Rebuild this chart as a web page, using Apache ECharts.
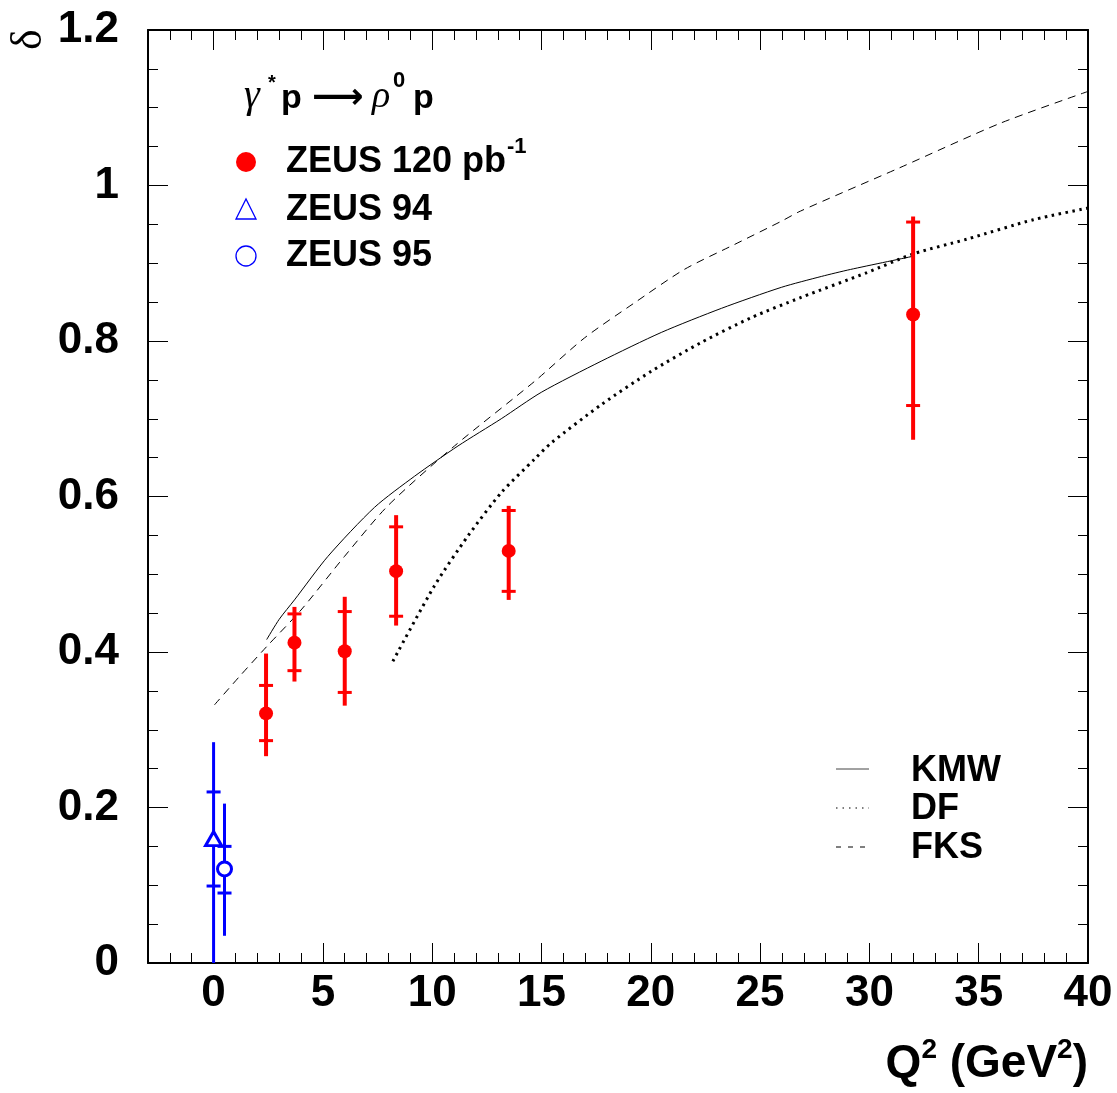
<!DOCTYPE html>
<html>
<head>
<meta charset="utf-8">
<script src="https://cdn.jsdelivr.net/npm/echarts@6/dist/echarts.min.js"></script>
<style>
html,body{margin:0;padding:0;background:#fff;}
#chart{width:1117px;height:1093px;}
</style>
</head>
<body>
<div id="chart"></div>
<script>
// ---------- tick values ----------
const xMajorTicks = [0, 5, 10, 15, 20, 25, 30, 35, 40];
const xMinorTicks = [-2, -1, 1, 2, 3, 4, 6, 7, 8, 9, 11, 12, 13, 14, 16, 17, 18, 19,
  21, 22, 23, 24, 26, 27, 28, 29, 31, 32, 33, 34, 36, 37, 38, 39];

// ---------- ZEUS 120 pb-1 (red) ----------
const zeus120Q2     = [2.4,   3.7,   6.0,   8.35,  13.5,  32.0];
const zeus120Delta  = [0.321, 0.412, 0.401, 0.504, 0.530, 0.834];
const zeus120StatLo = [0.286, 0.376, 0.348, 0.446, 0.478, 0.717];
const zeus120StatHi = [0.357, 0.449, 0.452, 0.561, 0.582, 0.953];
const zeus120TotLo  = [0.266, 0.362, 0.331, 0.434, 0.467, 0.673];
const zeus120TotHi  = [0.398, 0.458, 0.471, 0.576, 0.588, 0.960];

// ---------- ZEUS 94 (blue triangle) ----------
const zeus94Q2     = [0.0];
const zeus94Delta  = [0.160];
const zeus94StatLo = [0.099];
const zeus94StatHi = [0.220];
const zeus94TotLo  = [0.0];
const zeus94TotHi  = [0.284];

// ---------- ZEUS 95 (blue circle) ----------
const zeus95Q2     = [0.5];
const zeus95Delta  = [0.121];
const zeus95StatLo = [0.090];
const zeus95StatHi = [0.150];
const zeus95TotLo  = [0.035];
const zeus95TotHi  = [0.205];

// ---------- model curves ----------
const kmwQ2    = [2.43, 3.0, 3.7, 5.23, 7.36, 9.19, 11.18, 13.16, 14.99, 17.73, 20.48, 23.23, 25.97, 27.8, 29.13, 32.0];
const kmwDelta = [0.416, 0.442, 0.467, 0.523, 0.586, 0.626, 0.665, 0.700, 0.734, 0.774, 0.811, 0.842, 0.869, 0.883, 0.892, 0.909];

const dfQ2    = [8.2, 10.1, 11.63, 13.16, 14.68, 15.45, 17.73, 20.02, 22.3, 24.59, 26.87, 29.89, 32.0, 34.46, 37.5, 40.0];
const dfDelta = [0.388, 0.485, 0.549, 0.605, 0.648, 0.669, 0.718, 0.761, 0.798, 0.830, 0.856, 0.888, 0.912, 0.931, 0.956, 0.971];

const fksQ2    = [0.04, 1.2, 2.43, 4.0, 5.99, 7.97, 11.02, 14.68, 16.97, 19.25, 21.53, 23.82, 25.97, 26.84, 31.4, 35.98, 40.0];
const fksDelta = [0.332, 0.369, 0.407, 0.454, 0.523, 0.588, 0.665, 0.748, 0.804, 0.849, 0.892, 0.924, 0.954, 0.967, 1.023, 1.080, 1.121];

// ---------- helpers ----------
function rows(q, d, sl, sh, tl, th) {
  return q.map((v, i) => [v, d[i], sl[i], sh[i], tl[i], th[i]]);
}
function pairs(q, d) { return q.map((v, i) => [v, d[i]]); }

function errRender(color, lw, tickW, tickLw) {
  return function (params, api) {
    const x = api.value(0);
    const top = api.coord([x, api.value(5)]);
    const bot = api.coord([x, api.value(4)]);
    const sHi = api.coord([x, api.value(3)]);
    const sLo = api.coord([x, api.value(2)]);
    const h = tickW / 2;
    return {
      type: 'group',
      children: [
        { type: 'line', shape: { x1: top[0], y1: top[1], x2: bot[0], y2: bot[1] }, style: { stroke: color, lineWidth: lw } },
        { type: 'line', shape: { x1: sHi[0] - h, y1: sHi[1], x2: sHi[0] + h, y2: sHi[1] }, style: { stroke: color, lineWidth: tickLw } },
        { type: 'line', shape: { x1: sLo[0] - h, y1: sLo[1], x2: sLo[0] + h, y2: sLo[1] }, style: { stroke: color, lineWidth: tickLw } }
      ]
    };
  };
}

const SANS = '"Liberation Sans", Arial, sans-serif';
const SERIF = '"Liberation Serif", "DejaVu Serif", serif';

// text placed so that its baseline sits at "base"
function txt(str, x, base, size, font, opts) {
  opts = opts || {};
  const yc = base - 0.3465 * size;
  return {
    type: 'text', x: x, y: yc, z: 100,
    style: {
      text: str, font: font, fill: opts.fill || '#000',
      align: opts.align || 'left', verticalAlign: 'middle',
      textAlign: opts.align || 'left', textVerticalAlign: 'middle'
    }
  };
}

const mctx = document.createElement('canvas').getContext('2d');
function tw(t, f) { mctx.font = f; return mctx.measureText(t).width; }

// x-axis title, right aligned at 1088
function axisTitle() {
  const big = 'bold 46px ' + SANS, sup = 'bold 28px ' + SANS;
  const parts = [['Q', big, 0], ['2', sup, 20], [' (GeV', big, 0], ['2', sup, 20], [')', big, 0]];
  let total = parts.reduce((s, p) => s + tw(p[0], p[1]), 0);
  let x = 1088 - total;
  const out = [];
  parts.forEach(p => {
    const size = p[1] === big ? 46 : 28;
    out.push(txt(p[0], x, 1080 - p[2], size, p[1]));
    x += tw(p[0], p[1]);
  });
  return out;
}

const chart = echarts.init(document.getElementById('chart'), null, { renderer: 'canvas' });

const axisLineStyle = { color: '#000', width: 2 };
const labelStyle = { color: '#000', fontFamily: SANS, fontWeight: 'bold', fontSize: 44 };

function xAxisCfg(pos, ticks, len, showLine, showLabel) {
  return {
    type: 'value', position: pos, min: -3, max: 40,
    axisLine: { show: showLine, onZero: false, lineStyle: axisLineStyle },
    axisTick: { show: true, inside: true, length: len, customValues: ticks, lineStyle: { color: '#000', width: 1 } },
    axisLabel: showLabel ? Object.assign({ show: true, margin: 9, customValues: xMajorTicks }, labelStyle) : { show: false },
    splitLine: { show: false }
  };
}
function yAxisCfg(pos, showLabel) {
  return {
    type: 'value', position: pos, min: 0, max: 1.2, interval: 0.2,
    axisLine: { show: true, onZero: false, lineStyle: axisLineStyle },
    axisTick: { show: true, inside: true, length: 20, lineStyle: { color: '#000', width: 1 } },
    minorTick: { show: true, splitNumber: 4, length: 10, lineStyle: { color: '#000', width: 1 } },
    axisLabel: showLabel ? Object.assign({
      show: true, margin: 29,
      formatter: v => (Math.abs(v) < 1e-9 ? '0' : Math.abs(v - 1) < 1e-9 ? '1' : v.toFixed(1))
    }, labelStyle) : { show: false },
    splitLine: { show: false }
  };
}

// left axis also carries the rotated y title (delta), pushed to the left edge
const yLeft = yAxisCfg('left', true);
Object.assign(yLeft, {
  name: 'δ', nameLocation: 'end', nameRotate: 90, nameGap: -20, nameMoveOverlap: false,
  nameTextStyle: { fontFamily: SERIF, fontSize: 44, fontWeight: 'normal', color: '#000',
                   lineHeight: 238, verticalAlign: 'bottom' }
});

const option = {
  animation: false,
  backgroundColor: '#fff',
  grid: { left: 148, right: 29, top: 30, bottom: 130, containLabel: false, outerBoundsMode: 'none' },
  xAxis: [
    xAxisCfg('bottom', xMajorTicks, 20, true, true),
    xAxisCfg('bottom', xMinorTicks, 10, false, false),
    xAxisCfg('top', xMajorTicks, 20, true, false),
    xAxisCfg('top', xMinorTicks, 10, false, false)
  ],
  yAxis: [yLeft, yAxisCfg('right', false)],
  series: [
    { name: 'KMW', type: 'line', data: pairs(kmwQ2, kmwDelta), showSymbol: false, smooth: 0.25,
      lineStyle: { color: '#000', width: 1 }, z: 3 },
    { name: 'DF', type: 'line', data: pairs(dfQ2, dfDelta), showSymbol: false, smooth: 0.25,
      lineStyle: { color: '#000', width: 3, type: [2.5, 4.5], cap: 'butt' }, z: 3 },
    { name: 'FKS', type: 'line', data: pairs(fksQ2, fksDelta), showSymbol: false, smooth: 0.25,
      lineStyle: { color: '#000', width: 1, type: [8, 6] }, z: 3 },
    { name: 'ZEUS 120 err', type: 'custom', renderItem: errRender('#ff0000', 4, 14, 3),
      data: rows(zeus120Q2, zeus120Delta, zeus120StatLo, zeus120StatHi, zeus120TotLo, zeus120TotHi),
      encode: { x: 0, y: 1 }, z: 5 },
    { name: 'ZEUS 94 err', type: 'custom', renderItem: errRender('#0000ff', 3, 14, 3),
      data: rows(zeus94Q2, zeus94Delta, zeus94StatLo, zeus94StatHi, zeus94TotLo, zeus94TotHi),
      encode: { x: 0, y: 1 }, z: 5 },
    { name: 'ZEUS 95 err', type: 'custom', renderItem: errRender('#0000ff', 3, 14, 3),
      data: rows(zeus95Q2, zeus95Delta, zeus95StatLo, zeus95StatHi, zeus95TotLo, zeus95TotHi),
      encode: { x: 0, y: 1 }, z: 5 },
    { name: 'ZEUS 120 pb-1', type: 'scatter', data: pairs(zeus120Q2, zeus120Delta), symbol: 'circle', symbolSize: 14,
      itemStyle: { color: '#ff0000', opacity: 1 }, z: 6 },
    { name: 'ZEUS 94', type: 'scatter', data: pairs(zeus94Q2, zeus94Delta), symbol: 'triangle', symbolSize: [16, 14],
      itemStyle: { color: '#fff', borderColor: '#0000ff', borderWidth: 3, opacity: 1 }, z: 6 },
    { name: 'ZEUS 95', type: 'scatter', data: pairs(zeus95Q2, zeus95Delta), symbol: 'circle', symbolSize: 14,
      itemStyle: { color: '#fff', borderColor: '#0000ff', borderWidth: 3, opacity: 1 }, z: 6 }
  ],
  graphic: [
    // process title
    txt('γ', 244, 110, 40, 'italic 40px ' + SERIF),
    txt('*', 268, 90, 20, 'bold 20px ' + SANS),
    txt('p', 281, 110, 34, 'bold 34px ' + SANS),
    txt('⟶', 312, 111, 36, 'bold 36px "DejaVu Sans", sans-serif'),
    txt('ρ', 372, 110, 38, 'italic 38px ' + SERIF),
    txt('0', 393, 89, 22, 'bold 22px ' + SANS),
    txt('p', 413, 110, 34, 'bold 34px ' + SANS),
    // data legend
    { type: 'circle', shape: { cx: 246, cy: 162, r: 10 }, style: { fill: '#ff0000' }, z: 100 },
    { type: 'polygon', shape: { points: [[236, 219], [256, 219], [246, 199]] },
      style: { fill: 'none', stroke: '#0000ff', lineWidth: 1.3 }, z: 100 },
    { type: 'circle', shape: { cx: 246, cy: 256, r: 10 }, style: { fill: 'none', stroke: '#0000ff', lineWidth: 1.3 }, z: 100 },
    txt('ZEUS 120 pb', 286, 175, 36, 'bold 36px ' + SANS),
    txt('-1', 507, 155, 22, 'bold 22px ' + SANS),
    txt('ZEUS 94', 286, 223, 36, 'bold 36px ' + SANS),
    txt('ZEUS 95', 286, 269, 36, 'bold 36px ' + SANS),
    // model legend
    { type: 'line', shape: { x1: 836, y1: 769, x2: 869, y2: 769 }, style: { stroke: '#444', lineWidth: 1 }, z: 100 },
    { type: 'line', shape: { x1: 836, y1: 808, x2: 869, y2: 808 }, style: { stroke: '#555', lineWidth: 1.5, lineDash: [1.5, 5] }, z: 100 },
    { type: 'line', shape: { x1: 836, y1: 847, x2: 869, y2: 847 }, style: { stroke: '#000', lineWidth: 1, lineDash: [5, 7] }, z: 100 },
    txt('KMW', 911, 784, 36, 'bold 36px ' + SANS),
    txt('DF', 911, 822, 36, 'bold 36px ' + SANS),
    txt('FKS', 911, 861, 36, 'bold 36px ' + SANS)
  ].concat(axisTitle())
};

chart.setOption(option);
</script>
</body>
</html>
